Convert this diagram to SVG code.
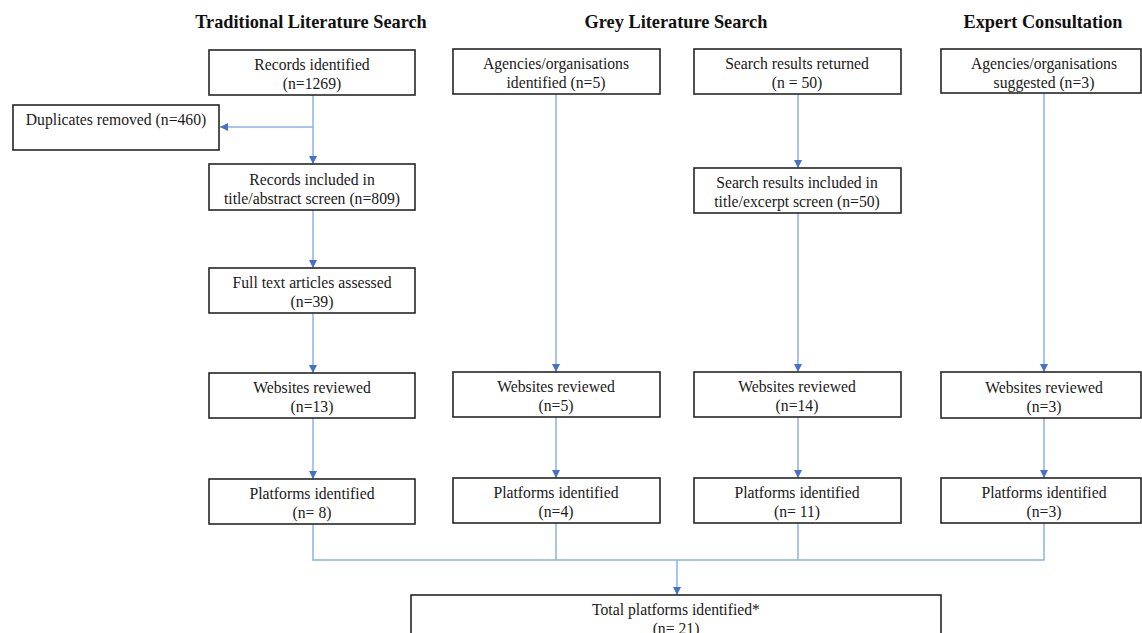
<svg xmlns="http://www.w3.org/2000/svg" width="1142" height="633" viewBox="0 0 1142 633">
<defs>
<marker id="ah" viewBox="0 0 10 10" refX="10" refY="5" markerWidth="8" markerHeight="8" markerUnits="userSpaceOnUse" orient="auto">
<path d="M0,0 L10,5 L0,10 Z" fill="#4472C4"/>
</marker>
<style>
.box{fill:#fff;stroke:#262626;stroke-width:1.6}
.t{font-family:"Liberation Serif","Times New Roman",serif;font-size:15.7px;fill:#1a1a1a;text-anchor:middle}
.h{font-family:"Liberation Serif","Times New Roman",serif;font-size:18.3px;font-weight:bold;fill:#111;text-anchor:middle}
.c{fill:none;stroke:#8DB0E8;stroke-width:1.5}
.a{fill:none;stroke:#8DB0E8;stroke-width:1.5;marker-end:url(#ah)}
</style>
</defs>
<rect width="1142" height="633" fill="#fff"/>
<g id="titles">
<text class="h" x="311" y="28">Traditional Literature Search</text>
<text class="h" x="676" y="28">Grey Literature Search</text>
<text class="h" x="1043" y="28">Expert Consultation</text>
</g>
<g id="connectors">
<path class="a" d="M313,95 V164"/>
<path class="a" d="M313,127 H220"/>
<path class="a" d="M313,210 V268"/>
<path class="a" d="M313,313 V373"/>
<path class="a" d="M313,418 V479"/>
<path class="a" d="M556,94 V372"/>
<path class="a" d="M556,417 V478"/>
<path class="a" d="M798,94 V168"/>
<path class="a" d="M798,213 V372"/>
<path class="a" d="M798,417 V478"/>
<path class="a" d="M1044,93 V372"/>
<path class="a" d="M1044,418 V478"/>
<path class="c" d="M313,524 V560 H1044 V523 M556,523 V560 M798,523 V560"/>
<path class="a" d="M677,560 V595"/>
</g>
<g id="n-records">
<rect class="box" x="209" y="50" width="206" height="45"/>
<text class="t" x="312" y="70">Records identified</text>
<text class="t" x="312" y="89">(n=1269)</text>
</g>
<g id="n-duplicates">
<rect class="box" x="13" y="105" width="206" height="45"/>
<text class="t" x="116" y="125">Duplicates removed (n=460)</text>
</g>
<g id="n-included">
<rect class="box" x="209" y="164" width="206" height="46"/>
<text class="t" x="312" y="185">Records included in</text>
<text class="t" x="312" y="204">title/abstract screen (n=809)</text>
</g>
<g id="n-fulltext">
<rect class="box" x="209" y="268" width="206" height="45"/>
<text class="t" x="312" y="288">Full text articles assessed</text>
<text class="t" x="312" y="307">(n=39)</text>
</g>
<g id="n-web-trad">
<rect class="box" x="209" y="373" width="206" height="45"/>
<text class="t" x="312" y="393">Websites reviewed</text>
<text class="t" x="312" y="412">(n=13)</text>
</g>
<g id="n-plat-trad">
<rect class="box" x="209" y="479" width="206" height="45"/>
<text class="t" x="312" y="499">Platforms identified</text>
<text class="t" x="312" y="518">(n= 8)</text>
</g>
<g id="n-agencies">
<rect class="box" x="453" y="49" width="207" height="45"/>
<text class="t" x="556" y="69">Agencies/organisations</text>
<text class="t" x="556" y="88">identified (n=5)</text>
</g>
<g id="n-web-grey1">
<rect class="box" x="453" y="372" width="207" height="45"/>
<text class="t" x="556" y="392">Websites reviewed</text>
<text class="t" x="556" y="411">(n=5)</text>
</g>
<g id="n-plat-grey1">
<rect class="box" x="453" y="478" width="207" height="45"/>
<text class="t" x="556" y="498">Platforms identified</text>
<text class="t" x="556" y="517">(n=4)</text>
</g>
<g id="n-search">
<rect class="box" x="694" y="49" width="207" height="45"/>
<text class="t" x="797" y="69">Search results returned</text>
<text class="t" x="797" y="88">(n = 50)</text>
</g>
<g id="n-search-incl">
<rect class="box" x="694" y="168" width="207" height="45"/>
<text class="t" x="797" y="188">Search results included in</text>
<text class="t" x="797" y="207">title/excerpt screen (n=50)</text>
</g>
<g id="n-web-grey2">
<rect class="box" x="694" y="372" width="207" height="45"/>
<text class="t" x="797" y="392">Websites reviewed</text>
<text class="t" x="797" y="411">(n=14)</text>
</g>
<g id="n-plat-grey2">
<rect class="box" x="694" y="478" width="207" height="45"/>
<text class="t" x="797" y="498">Platforms identified</text>
<text class="t" x="797" y="517">(n= 11)</text>
</g>
<g id="n-expert">
<rect class="box" x="941" y="49" width="200" height="44"/>
<text class="t" x="1044" y="69">Agencies/organisations</text>
<text class="t" x="1044" y="88">suggested (n=3)</text>
</g>
<g id="n-web-expert">
<rect class="box" x="941" y="372" width="200" height="46"/>
<text class="t" x="1044" y="393">Websites reviewed</text>
<text class="t" x="1044" y="412">(n=3)</text>
</g>
<g id="n-plat-expert">
<rect class="box" x="941" y="478" width="200" height="45"/>
<text class="t" x="1044" y="498">Platforms identified</text>
<text class="t" x="1044" y="517">(n=3)</text>
</g>
<g id="n-total">
<rect class="box" x="411" y="595" width="530" height="50"/>
<text class="t" x="676" y="615">Total platforms identified*</text>
<text class="t" x="676" y="634">(n= 21)</text>
</g>
</svg>
